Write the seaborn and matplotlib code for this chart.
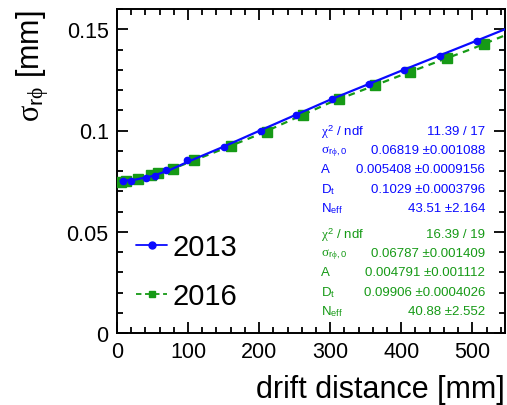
import matplotlib
matplotlib.use('Agg')
import matplotlib.pyplot as plt
from matplotlib.lines import Line2D
from matplotlib.ticker import MultipleLocator, FuncFormatter
import seaborn as sns
import pandas as pd

# measured points (drift distance [mm], resolution [mm])
x_2013 = [8, 20, 41, 53, 69, 98, 151, 202, 252, 303, 354, 404, 454, 506]
y_2013 = [0.0750, 0.0750, 0.0764, 0.0775, 0.0803, 0.0852, 0.0920, 0.1000,
          0.1075, 0.1158, 0.1230, 0.1300, 0.1366, 0.1443]
x_2016 = [5, 13, 29, 48, 58, 79, 109, 161, 211, 262, 312, 363, 413, 464, 516]
y_2016 = [0.0748, 0.0750, 0.0762, 0.0778, 0.0788, 0.0812, 0.0853, 0.0923,
          0.0995, 0.1079, 0.1158, 0.1227, 0.1291, 0.1356, 0.1427]

# fit curves
fit_x = [5, 25, 50, 75, 100, 150, 200, 300, 400, 500, 546]
fit_2013 = [0.0751, 0.0757, 0.0775, 0.0806, 0.0846, 0.0920, 0.0998,
            0.1152, 0.1295, 0.1435, 0.1500]
fit_2016 = [0.0749, 0.0756, 0.0777, 0.0806, 0.0841, 0.0910, 0.0981,
            0.1138, 0.1273, 0.1404, 0.1470]

# fit statistics boxes
stat_names = [r'$\chi^{2}$ / ndf', r'$\sigma_{\mathregular{r}\phi,\mathregular{0}}$', 'A',
              r'D$_\mathregular{t}$', r'N$_\mathregular{eff}$']
stats_2013 = ['11.39 / 17', '0.06819 \u00b10.001088', '0.005408 \u00b10.0009156',
              '0.1029 \u00b10.0003796', '43.51 \u00b12.164']
stats_2016 = ['16.39 / 19', '0.06787 \u00b10.001409', '0.004791 \u00b10.001112',
              '0.09906 \u00b10.0004026', '40.88 \u00b12.552']

BLUE = '#0a0aff'
GREEN = '#169a16'

sns.set_theme(style="ticks")
plt.rcParams['font.family'] = ['Liberation Sans', 'DejaVu Sans']
plt.rcParams['mathtext.fontset'] = 'custom'
plt.rcParams['mathtext.rm'] = 'Liberation Sans'
plt.rcParams['mathtext.it'] = 'Liberation Serif'
for key in ['text.color', 'axes.labelcolor', 'xtick.color', 'ytick.color']:
    plt.rcParams[key] = 'black'

fig = plt.figure(figsize=(5.07, 4.06), dpi=100)
ax = fig.add_axes([117 / 507, 72 / 406, 388 / 507, 324 / 406])

fits = pd.DataFrame({"x": fit_x, "y13": fit_2013, "y16": fit_2016})

# 2016 first, 2013 on top
ax.errorbar(x_2016, y_2016, xerr=4, yerr=0.0006, fmt='s', ms=6.5,
            color=GREEN, elinewidth=1.2, capsize=0, zorder=3)
sns.lineplot(data=fits, x="x", y="y16", ax=ax, color=GREEN, lw=1.6,
             linestyle=(0, (3, 2.5)), zorder=4)
ax.errorbar(x_2013, y_2013, xerr=3, yerr=0.0008, fmt='o', ms=4.5,
            color=BLUE, elinewidth=1.2, capsize=1.5, zorder=5)
sns.lineplot(data=fits, x="x", y="y13", ax=ax, color=BLUE, lw=1.6, zorder=6)

ax.set_xlim(0, 546)
ax.set_ylim(0, 0.16)
ax.xaxis.set_major_locator(MultipleLocator(100))
ax.xaxis.set_minor_locator(MultipleLocator(20))
ax.yaxis.set_major_locator(MultipleLocator(0.05))
ax.yaxis.set_minor_locator(MultipleLocator(0.01))
ax.yaxis.set_major_formatter(FuncFormatter(lambda v, p: '%g' % round(v, 3)))
ax.tick_params(which='both', direction='in', top=True, right=True,
               width=1.3, colors='black', labelsize=15.5)
ax.tick_params(which='major', length=8)
ax.tick_params(which='minor', length=4.5)
ax.tick_params(axis='y', pad=6)
ax.tick_params(axis='x', pad=6)
for sp in ax.spines.values():
    sp.set_linewidth(1.4)
    sp.set_color('black')

ax.set_xlabel('drift distance [mm]', fontsize=22, ha='right')
ax.xaxis.set_label_coords(1.0, -0.127)
ax.set_ylabel(r'$\sigma_{\mathregular{r}\phi}$ [mm]', fontsize=22, ha='right')
ax.yaxis.set_label_coords(-0.17, 1.0)

# legend
handles = [Line2D([], [], color=BLUE, lw=1.3, marker='o', ms=5),
           Line2D([], [], color=GREEN, lw=1.3, marker='s', ms=5,
                  linestyle=(0, (3, 2)))]
ax.legend(handles, ['2013', '2016'], loc='center left',
          bbox_to_anchor=(0.05, 0.19), frameon=False, fontsize=21,
          handlelength=1.05, handletextpad=0.2, labelspacing=0.72,
          borderpad=0, borderaxespad=0)

# stats text
for k, (vals, col, top) in enumerate([(stats_2013, BLUE, 132),
                                      (stats_2016, GREEN, 235)]):
    for i, (name, val) in enumerate(zip(stat_names, vals)):
        yy = 1 - (top + i * 19.2) / 406
        fig.text(321 / 507, yy, name, color=col, fontsize=9.5, va='center', ha='left')
        fig.text(485 / 507, yy, val, color=col, fontsize=9.5, va='center', ha='right')

plt.savefig('out.png', dpi=100)
plt.close()
